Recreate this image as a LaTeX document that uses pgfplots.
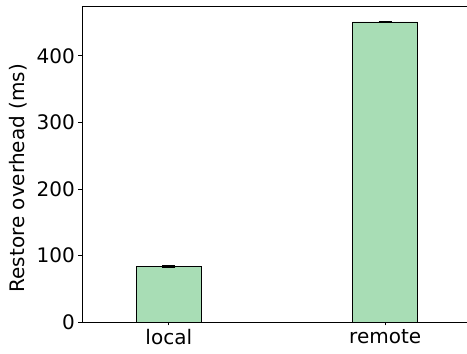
\documentclass[border=0pt]{standalone}
\usepackage{fontspec}
\setmainfont{DejaVu Sans}
\usepackage{pgfplots}
\pgfplotsset{compat=1.18}
\definecolor{barfill}{HTML}{A8DDB5}
\begin{document}
\begin{tikzpicture}
\begin{axis}[
  at={(0,0)}, anchor=south west,
  scale only axis,
  width=385pt, height=316pt,
  xmin=-0.401, xmax=1.378,
  ymin=0, ymax=475,
  axis x line*=box,
  axis y line*=left,
  axis line style={black, line width=0.8pt},
  xtick={0,1}, xticklabels={local,remote},
  ytick={0,100,200,300,400},
  xtick pos=bottom,
  tick align=outside,
  major tick length=3.5pt,
  tick style={black, line width=0.8pt},
  /pgf/number format/assume math mode=true,
  ticklabel style={font=\fontsize{20}{24}\selectfont},
  xticklabel style={inner sep=0pt, yshift=-3.5pt},
  yticklabel style={inner sep=0pt, xshift=-3.5pt},
  ylabel={Restore overhead (ms)},
  ylabel style={font=\fontsize{20}{24}\selectfont, at={(axis description cs:-0.1429,0.455)}, anchor=south, inner sep=0pt},
  ybar, bar width=0.3,
]
\addplot[fill=barfill, draw=black, line width=0.8pt,
  error bars/.cd, y dir=both, y explicit,
  error bar style={black, line width=1pt},
  error mark options={black, line width=1.5pt, mark size=6.5pt, rotate=90}]
  coordinates {(0,83) +- (0,1) (1,451) +- (0,1)};
\end{axis}
\pgfresetboundingbox
\path (-82pt,-32pt) rectangle (385pt,322pt);
\end{tikzpicture}
\end{document}
